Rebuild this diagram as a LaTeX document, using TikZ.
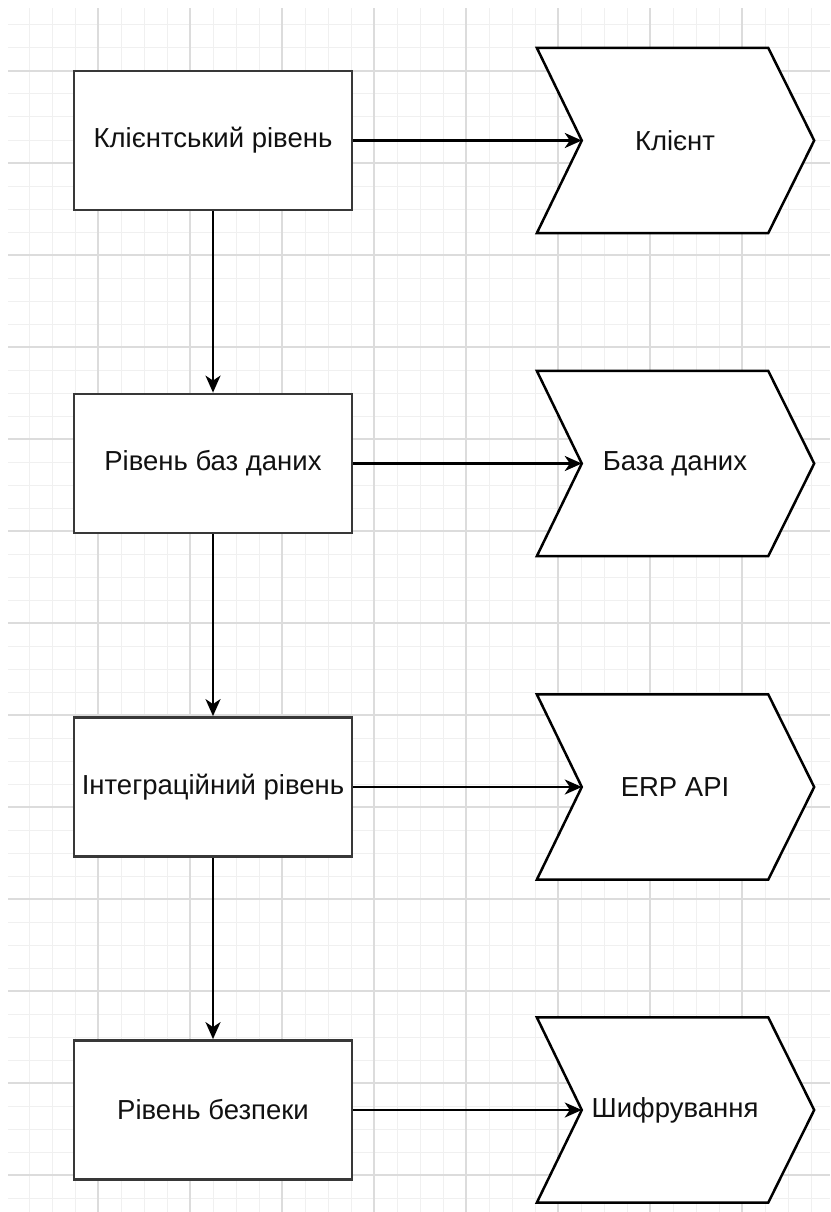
\documentclass[tikz,border=0pt]{standalone}
\usepackage{fontspec}
\setmainfont{Liberation Sans}
\usetikzlibrary{arrows.meta,calc}

\definecolor{gridminor}{HTML}{F0F0F0}
\definecolor{gridmajor}{HTML}{DCDCDC}
\definecolor{boxline}{HTML}{383838}
\definecolor{inktext}{HTML}{111111}

\newcommand{\lbl}{\fontsize{27.5}{32}\selectfont\color{inktext}}

\tikzset{
  gminor/.style={draw=gridminor, line width=1pt},
  gmajor/.style={draw=gridmajor, line width=1.3pt},
  layerbox/.style={draw=boxline, line width=2.8pt, fill=white,
    minimum width=278pt, minimum height=139pt, inner sep=0pt, font=\lbl},
  chevlabel/.style={minimum width=186pt, minimum height=185pt,
    inner sep=0pt, font=\lbl},
  chevline/.style={draw=black, line width=2.5pt, fill=white, line join=miter},
  flow/.style={draw=black, line width=2.3pt,
    -{Stealth[length=17pt,width=15pt,inset=5pt]}},
}

% chevron outline around a label node: notch on the west side, point on the east
\newcommand{\chevron}[1]{%
  \path[chevline] ($(#1.north west)+(-45,0)$) -- (#1.north east)
    -- ($(#1.east)+(46,0)$) -- (#1.south east)
    -- ($(#1.south west)+(-45,0)$) -- (#1.west) -- cycle;}

\begin{document}
\begin{tikzpicture}[x=1pt, y=-1pt]
  \useasboundingbox (0,0) rectangle (830,1212);
  \fill[white] (0,0) rectangle (830,1212);

  % background grid
  \begin{scope}
    \clip (8,9) rectangle (830,1212);
    \foreach \i in {0,...,36} \draw[gminor] (6+23*\i,0) -- (6+23*\i,1212);
    \foreach \j in {0,...,53} \draw[gminor] (0,2+23*\j) -- (830,2+23*\j);
    \foreach \i in {0,...,9} \draw[gmajor] (6+92*\i,0) -- (6+92*\i,1212);
    \foreach \j in {0,...,14} \draw[gmajor] (0,-21+92*\j) -- (830,-21+92*\j);
  \end{scope}

  % layers
  \node[layerbox] (b1) at (213,140.5) {Клієнтський рівень};
  \node[layerbox] (b2) at (213,463.5) {Рівень баз даних};
  \node[layerbox] (b3) at (213,787)   {Інтеграційний рівень};
  \node[layerbox] (b4) at (213,1110)  {Рівень безпеки};

  % components
  \node[chevlabel] (c1) at (675,140.5) {};
  \node[chevlabel] (c2) at (675,463.5) {};
  \node[chevlabel] (c3) at (675,787)   {};
  \node[chevlabel] (c4) at (675,1110)  {};
  \chevron{c1}\chevron{c2}\chevron{c3}\chevron{c4}
  \node[font=\lbl] (t1) at (c1) {Клієнт};
  \node[font=\lbl] (t2) at (c2) {База даних};
  \node[font=\lbl] (t3) at (c3) {ERP API};
  \node[font=\lbl] (t4) at (c4) {Шифрування};

  % connectors
  \draw[flow] (b1) -- (b2);
  \draw[flow] (b2) -- (b3);
  \draw[flow] (b3) -- (b4);
  \draw[flow] (b1.east) -- (c1.west);
  \draw[flow] (b2.east) -- (c2.west);
  \draw[flow] (b3.east) -- (c3.west);
  \draw[flow] (b4.east) -- (c4.west);
\end{tikzpicture}
\end{document}
